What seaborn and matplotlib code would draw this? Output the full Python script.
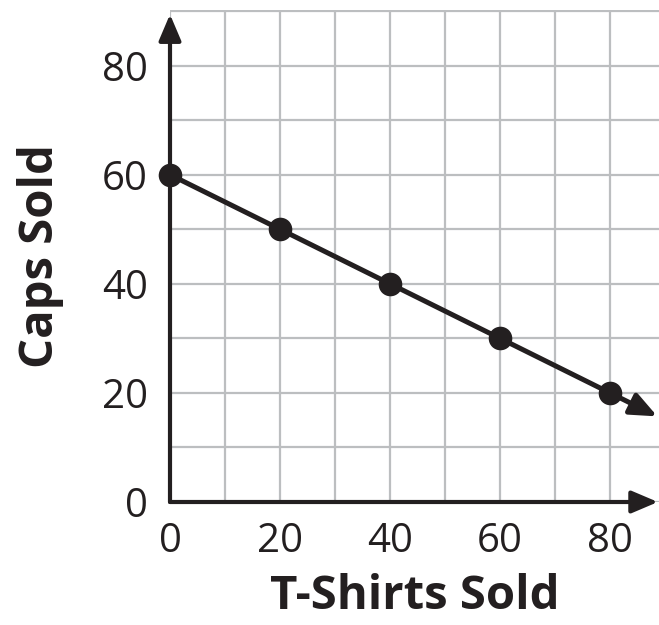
import numpy as np
import pandas as pd
import matplotlib
matplotlib.use("Agg")
import matplotlib.pyplot as plt
import matplotlib.ticker as mticker
import seaborn as sns

# data
tshirts = [0, 20, 40, 60, 80]
caps = [60, 50, 40, 30, 20]
x_ticks = [0, 20, 40, 60, 80]
y_ticks = [0, 20, 40, 60, 80]
x_label = "T-Shirts Sold"
y_label = "Caps Sold"

df = pd.DataFrame({"tshirts": tshirts, "caps": caps})

sns.set_style("white")
plt.rcParams["font.family"] = ["Open Sans", "DejaVu Sans"]

fig = plt.figure(figsize=(6.59, 6.25), dpi=100)
ax = fig.add_axes([170 / 659, 123 / 625, 489 / 659, 492 / 625])

x_max = 489 / 5.5
y_max = 492 / 5.455
ax.set_xlim(0, x_max)
ax.set_ylim(0, y_max)

# grid every 10, labels every 20
ax.xaxis.set_major_locator(mticker.FixedLocator(x_ticks))
ax.yaxis.set_major_locator(mticker.FixedLocator(y_ticks))
ax.xaxis.set_minor_locator(mticker.MultipleLocator(10))
ax.yaxis.set_minor_locator(mticker.MultipleLocator(10))
ax.grid(which="both", color="#bcbec0", linewidth=1.6, zorder=0)
ax.tick_params(which="both", length=0)
ax.tick_params(axis="x", labelsize=29, pad=14, colors="#231f20")
ax.tick_params(axis="y", labelsize=29, pad=16, colors="#231f20")
for s in ax.spines.values():
    s.set_visible(False)

ink = "#231f20"
head = dict(arrowstyle="-|>,head_length=0.4,head_width=0.17", mutation_scale=40,
            color=ink, linewidth=3, shrinkA=0, shrinkB=0)

# axes with arrows
ax.annotate("", xy=(x_max - 0.2, 0), xytext=(0, 0), arrowprops=head,
            annotation_clip=False, zorder=3)
ax.annotate("", xy=(0, 89.4), xytext=(0, 0), arrowprops=head,
            annotation_clip=False, zorder=3)

# data line
sns.lineplot(data=df, x="tshirts", y="caps", marker="o", markersize=17,
             color=ink, linewidth=3.6, markeredgewidth=0, ax=ax, zorder=4,
             clip_on=False)

# extend the line past the last point with an arrow
slope = (caps[-1] - caps[0]) / (tshirts[-1] - tshirts[0])
x_end = x_max - 0.3
y_end = caps[-1] + slope * (x_end - tshirts[-1])
line_head = dict(head, linewidth=3.6)
ax.annotate("", xy=(x_end, y_end), xytext=(tshirts[-1], caps[-1]),
            arrowprops=line_head, annotation_clip=False, zorder=4)

ax.set_xlabel(x_label, fontsize=34, fontweight="bold", color=ink, labelpad=8)
ax.set_ylabel(y_label, fontsize=34, fontweight="bold", color=ink, labelpad=27)

fig.savefig("out.png", dpi=100)
